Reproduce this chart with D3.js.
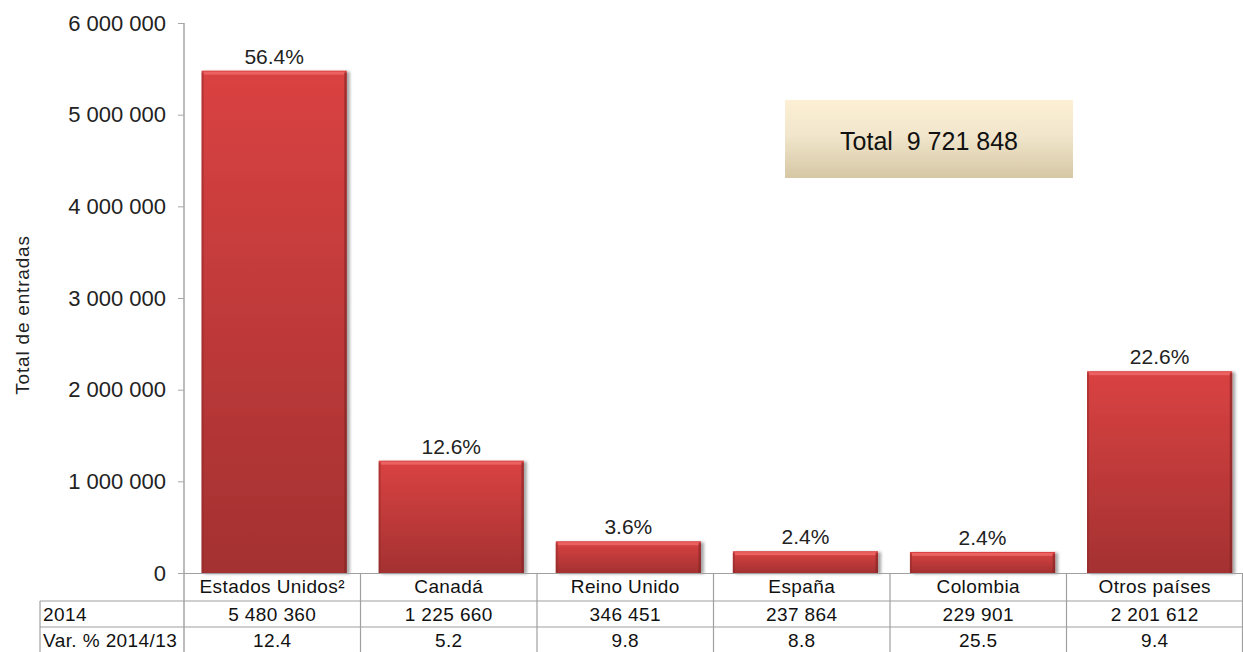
<html>
<head>
<meta charset="utf-8">
<script src="https://d3js.org/d3.v7.min.js"></script>
<style>
body { margin:0; background:#fff; }
text { font-family: "Liberation Sans", Arial, sans-serif; }
</style>
</head>
<body>
<script>
var width = 1243;
var height = 652;

var paises = ["Estados Unidos²", "Canadá", "Reino Unido", "España", "Colombia", "Otros países"];
var entradas = [5480360, 1225660, 346451, 237864, 229901, 2201612];
var porcentaje = ["56.4%", "12.6%", "3.6%", "2.4%", "2.4%", "22.6%"];
var fila2014 = ["5 480 360", "1 225 660", "346 451", "237 864", "229 901", "2 201 612"];
var filaVar = ["12.4", "5.2", "9.8", "8.8", "25.5", "9.4"];
var yTicks = [0, 1000000, 2000000, 3000000, 4000000, 5000000, 6000000];
var totalTxt = "Total  9 721 848";

var pLeft = 184, pRight = 1243, pTop = 23, pBottom = 573;

var x = d3.scaleBand().domain(paises).range([pLeft, pRight])
    .paddingInner(0.18).paddingOuter(0.08).align(0.62);
var xb = d3.scaleBand().domain(paises).range([pLeft, pRight]);
var y = d3.scaleLinear().domain([0, 6000000]).range([pBottom, pTop]);

var fmt = function(v){ return d3.format(",")(v).replace(/,/g, " "); };

var svg = d3.select("body").append("svg")
    .attr("width", width)
    .attr("height", height);

var defs = svg.append("defs");
var g1 = defs.append("linearGradient").attr("id", "barGrad")
    .attr("x1", 0).attr("y1", 0).attr("x2", 0).attr("y2", 1);
g1.append("stop").attr("offset", "0%").attr("stop-color", "#da4242");
g1.append("stop").attr("offset", "100%").attr("stop-color", "#a43131");
var g2 = defs.append("linearGradient").attr("id", "boxGrad")
    .attr("x1", 0).attr("y1", 0).attr("x2", 0).attr("y2", 1);
g2.append("stop").attr("offset", "0%").attr("stop-color", "#fcefd4");
g2.append("stop").attr("offset", "45%").attr("stop-color", "#f1e6cc");
g2.append("stop").attr("offset", "100%").attr("stop-color", "#d6c7a4");
var sh = defs.append("filter").attr("id", "shadow").attr("x", "-10%").attr("y", "-10%").attr("width", "130%").attr("height", "130%");
sh.append("feDropShadow").attr("dx", 3).attr("dy", 1).attr("stdDeviation", 1.5)
    .attr("flood-color", "#000").attr("flood-opacity", 0.35);

// y axis
var yAxis = svg.append("g")
    .attr("transform", "translate(" + pLeft + ",0)")
    .call(d3.axisLeft(y).tickValues(yTicks).tickSize(6).tickPadding(12).tickFormat(fmt));
yAxis.select(".domain").remove();
yAxis.selectAll("line").attr("stroke", "#a6a6a6");
yAxis.selectAll("text").attr("font-size", 22).attr("fill", "#222")
    .style("font-family", "Liberation Sans, Arial, sans-serif");
svg.append("line").attr("x1", pLeft).attr("x2", pLeft).attr("y1", pTop).attr("y2", height)
    .attr("stroke", "#a6a6a6").attr("stroke-width", 1.5);

svg.append("text")
    .attr("transform", "translate(29," + ((pTop + pBottom) / 2 + 17) + ") rotate(-90)")
    .attr("text-anchor", "middle")
    .attr("font-size", 19)
    .attr("letter-spacing", 0.8)
    .attr("fill", "#222")
    .text("Total de entradas");

// bars
var bars = svg.append("g").selectAll("g")
    .data(paises)
    .enter().append("g");
bars.append("rect")
    .attr("x", function(d){ return x(d); })
    .attr("y", function(d, i){ return y(entradas[i]); })
    .attr("width", x.bandwidth())
    .attr("height", function(d, i){ return y(0) - y(entradas[i]); })
    .attr("fill", "url(#barGrad)")
    .attr("filter", "url(#shadow)");
// bevel top
bars.append("rect")
    .attr("x", function(d){ return x(d) + 2; })
    .attr("y", function(d, i){ return y(entradas[i]) + 1; })
    .attr("width", x.bandwidth() - 4)
    .attr("height", 3)
    .attr("fill", "#f06a6a")
    .attr("opacity", 0.8);
// bevel sides
bars.append("rect")
    .attr("x", function(d){ return x(d); })
    .attr("y", function(d, i){ return y(entradas[i]) + 2; })
    .attr("width", 2)
    .attr("height", function(d, i){ return Math.max(0, y(0) - y(entradas[i]) - 2); })
    .attr("fill", "#8e2a2a").attr("opacity", 0.5);
bars.append("rect")
    .attr("x", function(d){ return x(d) + x.bandwidth() - 2.5; })
    .attr("y", function(d, i){ return y(entradas[i]) + 2; })
    .attr("width", 2.5)
    .attr("height", function(d, i){ return Math.max(0, y(0) - y(entradas[i]) - 2); })
    .attr("fill", "#7e2424").attr("opacity", 0.6);

bars.append("text")
    .attr("x", function(d){ return x(d) + x.bandwidth() / 2; })
    .attr("y", function(d, i){ return y(entradas[i]) - 7; })
    .attr("text-anchor", "middle")
    .attr("font-size", 21)
    .attr("fill", "#222")
    .text(function(d, i){ return porcentaje[i]; });

// table
var grid = svg.append("g").attr("stroke", "#a0a0a0").attr("stroke-width", 1.2);
grid.append("line").attr("x1", pLeft).attr("x2", pRight).attr("y1", pBottom + 0.5).attr("y2", pBottom + 0.5);
grid.append("line").attr("x1", 40).attr("x2", pRight).attr("y1", 601).attr("y2", 601);
grid.append("line").attr("x1", 40).attr("x2", pRight).attr("y1", 627).attr("y2", 627);
grid.append("line").attr("x1", 40).attr("x2", 40).attr("y1", 601).attr("y2", height);
grid.selectAll(".v").data(paises.slice(1)).enter().append("line")
    .attr("x1", function(d){ return xb(d); }).attr("x2", function(d){ return xb(d); })
    .attr("y1", pBottom).attr("y2", height);
grid.append("line").attr("x1", pRight - 0.5).attr("x2", pRight - 0.5).attr("y1", pBottom).attr("y2", height);

var tbl = svg.append("g").attr("font-size", 19).attr("letter-spacing", 0.4)
    .attr("fill", "#111").attr("text-anchor", "middle");
tbl.selectAll(".cat").data(paises).enter().append("text")
    .attr("x", function(d){ return xb(d) + xb.bandwidth() / 2; })
    .attr("y", 593)
    .text(function(d){ return d; });
tbl.selectAll(".v14").data(fila2014).enter().append("text")
    .attr("x", function(d, i){ return xb(paises[i]) + xb.bandwidth() / 2; })
    .attr("y", 621)
    .text(function(d){ return d; });
tbl.selectAll(".vv").data(filaVar).enter().append("text")
    .attr("x", function(d, i){ return xb(paises[i]) + xb.bandwidth() / 2; })
    .attr("y", 647)
    .text(function(d){ return d; });
tbl.append("text").attr("x", 43).attr("y", 621).attr("text-anchor", "start").text("2014");
tbl.append("text").attr("x", 43).attr("y", 647).attr("text-anchor", "start").text("Var. % 2014/13");

// total box
svg.append("rect")
    .attr("x", 785).attr("y", 100).attr("width", 288).attr("height", 78)
    .attr("fill", "url(#boxGrad)");
svg.append("text")
    .attr("x", 929).attr("y", 150)
    .attr("text-anchor", "middle")
    .attr("font-size", 25)
    .attr("fill", "#111")
    .style("white-space", "pre")
    .text(totalTxt);
</script>
</body>
</html>
